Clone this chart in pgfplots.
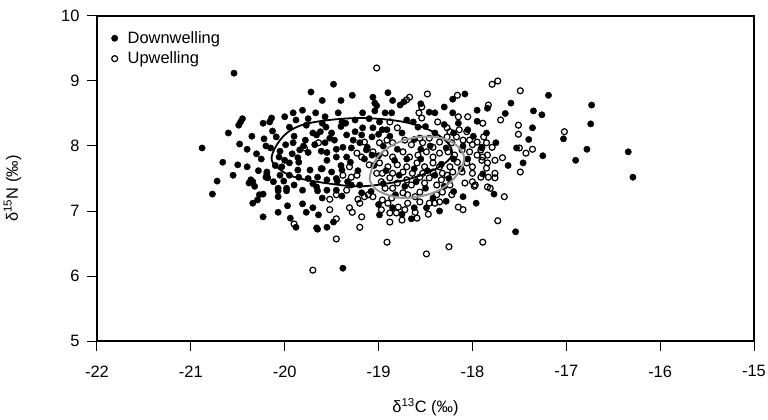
\documentclass[border=0pt]{standalone}
\usepackage{fontspec}
\setmainfont{Liberation Sans}
\usepackage{pgfplots}
\pgfplotsset{compat=1.18}

\pgfplotstableread{
x y
-20.54 9.12
-20.88 7.97
-20.72 7.46
-20.77 7.26
-20.66 7.75
-20.50 7.71
-20.40 7.68
-20.48 8.03
-20.47 8.37
-20.49 8.32
-20.45 8.42
-20.23 8.35
-20.14 8.43
-20.16 8.37
-20.13 8.23
-19.95 8.29
-19.91 8.51
-19.81 8.55
-19.67 8.51
-19.57 8.45
-19.77 8.32
-19.56 8.29
-20.22 8.11
-20.09 8.14
-20.15 7.97
-20.30 7.88
-20.06 7.83
-20.00 7.78
-19.95 7.74
-20.03 7.68
-19.84 7.94
-19.78 8.09
-19.66 8.17
-19.57 8.05
-19.61 7.92
-19.47 8.09
-19.91 8.05
-19.99 8.02
-19.86 7.82
-19.73 7.63
-19.55 7.78
-19.45 7.83
-19.86 7.63
-20.19 7.60
-19.48 8.95
-19.72 8.83
-20.38 7.43
-20.34 7.45
-20.32 7.38
-20.19 7.57
-20.18 7.51
-20.23 7.26
-20.34 7.12
-20.29 7.17
-20.23 6.91
-20.07 7.31
-20.07 7.22
-19.98 7.31
-20.01 7.46
-20.07 6.98
-19.97 7.08
-19.94 6.89
-19.81 7.11
-19.77 6.98
-19.81 7.32
-19.65 7.31
-19.64 6.94
-19.66 6.74
-19.55 6.75
-19.48 6.83
-19.55 7.32
-19.45 7.32
-19.38 6.12
-17.96 7.12
-17.89 7.57
-18.99 6.94
-18.49 7.05
-17.77 7.26
-17.54 6.68
-16.29 7.52
-17.19 8.78
-17.59 8.66
-16.73 8.63
-17.35 8.54
-17.26 8.48
-17.36 8.28
-16.74 8.34
-17.03 8.11
-17.53 7.97
-16.78 7.95
-16.90 7.78
-16.34 7.91
-17.46 7.74
-19.28 8.78
-19.06 8.75
-18.90 8.82
-19.04 8.66
-19.02 8.62
-18.77 8.63
-18.73 8.68
-18.08 8.80
-18.21 8.72
-19.17 8.51
-18.86 8.51
-18.46 8.52
-18.40 8.51
-18.21 8.51
-17.95 8.38
-18.99 8.37
-19.06 8.28
-18.96 8.25
-18.91 8.25
-18.63 8.37
-18.58 8.29
-17.99 8.15
-19.43 8.51
-19.25 8.22
-19.18 8.17
-19.34 8.17
-19.17 8.28
-19.27 8.09
-19.07 8.14
-19.38 7.98
-19.29 7.97
-19.13 7.94
-19.34 7.83
-19.07 7.86
-19.39 7.63
-17.84 8.58
-17.90 7.97
-20.36 7.48
-20.27 7.25
-20.20 7.52
-20.07 7.35
-19.98 7.35
-19.66 7.37
-19.39 7.23
-19.18 7.28
-19.29 7.40
-19.44 7.46
-19.04 8.54
-18.93 8.51
-19.39 8.37
-19.35 8.35
-19.25 8.40
-19.10 8.42
-19.20 8.05
-19.12 7.98
-19.00 8.18
-18.95 8.00
-18.88 8.15
-18.80 7.95
-18.75 8.20
-18.70 8.40
-18.62 8.10
-18.55 7.95
-18.50 8.30
-18.45 8.00
-18.40 8.20
-18.30 8.33
-18.28 7.97
-18.20 8.20
-18.15 8.35
-19.30 7.75
-19.22 7.62
-19.15 7.80
-19.05 7.70
-19.00 7.85
-18.92 7.62
-18.83 7.78
-18.78 7.55
-18.70 7.80
-18.62 7.65
-18.55 7.80
-18.48 7.62
-18.40 7.55
-18.33 7.72
-18.25 7.50
-18.20 7.80
-18.12 7.65
-18.05 7.80
-19.33 7.45
-19.20 7.40
-19.08 7.30
-18.95 7.42
-18.82 7.25
-18.72 7.38
-18.60 7.45
-18.50 7.35
-18.42 7.20
-18.30 7.38
-18.20 7.30
-18.62 7.05
-18.75 6.95
-19.00 7.10
-18.35 7.00
-20.05 7.55
-19.95 7.55
-19.85 7.52
-19.75 7.50
-19.65 7.52
-19.55 7.48
-19.45 7.50
-19.50 7.60
-19.60 7.65
-19.40 7.70
-20.25 7.80
-20.10 7.70
-19.90 8.15
-19.75 7.90
-19.70 8.20
-19.60 8.35
-19.50 8.20
-19.45 7.95
-19.40 8.30
-19.85 7.75
-20.20 8.00
-20.05 7.92
-19.92 7.88
-19.80 8.00
-19.68 8.02
-19.55 7.90
-19.52 8.12
-19.62 8.22
-19.88 8.40
-20.00 8.45
-19.75 8.42
-20.35 8.15
-20.40 7.95
-20.28 7.62
-20.12 7.45
-19.90 7.40
-19.70 7.42
-19.60 7.20
-19.70 7.05
-19.88 6.75
-19.65 6.72
-20.55 7.55
-20.60 8.20
-18.10 8.00
-18.05 8.25
-17.95 8.55
-17.85 8.20
-17.75 8.05
-17.65 8.50
-17.62 7.70
-17.40 8.10
-17.25 7.85
-18.85 7.05
-18.65 6.88
-18.28 7.15
-18.10 7.22
-18.85 8.70
-18.55 8.65
-18.30 8.60
-19.40 8.70
-19.60 8.70
}\downwelling

\pgfplotstableread{
x y
-19.02 9.20
-19.90 6.80
-19.52 7.18
-19.52 7.02
-19.45 6.57
-19.70 6.09
-19.45 6.88
-18.91 6.52
-18.49 6.34
-18.25 6.45
-17.89 6.52
-19.34 7.32
-19.20 6.75
-19.31 7.05
-19.28 6.98
-19.18 6.91
-19.20 7.12
-19.22 7.18
-19.15 7.22
-19.06 7.22
-19.11 7.25
-18.96 7.17
-18.90 7.12
-18.97 7.02
-18.88 6.97
-18.88 6.83
-18.81 6.97
-18.75 6.86
-18.79 7.06
-18.72 7.02
-18.69 7.12
-18.61 6.98
-18.59 6.89
-18.56 7.14
-18.46 7.12
-18.47 6.95
-18.40 7.12
-18.35 7.14
-18.38 7.25
-18.22 7.25
-18.15 7.06
-18.10 7.02
-18.08 7.43
-18.00 7.45
-17.97 7.40
-17.83 7.52
-17.91 7.52
-18.11 7.60
-17.84 7.37
-17.76 7.58
-17.76 7.51
-17.81 7.35
-17.66 7.22
-17.73 6.85
-17.49 7.60
-17.73 9.00
-17.79 8.95
-17.49 8.85
-17.70 8.40
-17.51 8.32
-17.51 8.18
-17.02 8.22
-17.50 7.97
-17.43 7.89
-17.36 7.95
-17.68 7.82
-17.76 7.78
-17.79 7.98
-18.67 8.75
-18.48 8.80
-18.70 8.71
-18.16 8.78
-17.83 8.63
-18.54 8.60
-18.57 8.51
-18.37 8.37
-18.15 8.45
-18.05 8.45
-17.89 8.35
-18.88 8.37
-18.80 8.28
-18.54 8.43
-18.27 8.28
-18.24 8.22
-18.14 8.25
-18.06 8.22
-17.88 8.14
-18.00 8.02
-17.91 7.94
-17.84 7.86
-19.15 8.06
-19.23 7.89
-19.18 7.83
-19.31 7.68
-19.10 7.71
-19.64 8.05
-19.79 7.97
-19.61 7.65
-17.90 7.78
-17.84 7.74
-17.98 7.38
-19.45 7.25
-18.99 8.05
-18.91 8.09
-18.85 8.05
-18.72 8.09
-18.65 8.02
-18.56 8.12
-18.53 8.05
-18.46 8.12
-18.42 7.98
-18.35 8.06
-18.27 8.14
-18.22 8.05
-18.17 8.14
-18.10 8.09
-18.03 8.09
-17.95 8.06
-17.90 7.98
-17.85 8.05
-19.06 7.91
-18.93 7.89
-18.85 7.83
-18.74 7.91
-18.67 7.83
-18.58 7.86
-18.49 7.91
-18.42 7.83
-18.35 7.89
-18.26 7.91
-18.19 7.86
-18.11 7.94
-18.03 7.91
-17.95 7.86
-17.89 7.83
-18.99 7.74
-18.90 7.68
-18.80 7.71
-18.70 7.68
-18.59 7.74
-18.51 7.68
-18.42 7.74
-18.35 7.68
-18.24 7.68
-18.16 7.75
-18.06 7.74
-18.00 7.68
-17.85 7.66
-18.96 7.58
-18.85 7.58
-18.74 7.60
-18.64 7.58
-18.53 7.58
-18.42 7.60
-18.32 7.58
-18.21 7.60
-18.00 7.58
-19.38 7.55
-19.29 7.52
-19.23 7.55
-19.02 7.58
-18.97 7.45
-18.88 7.51
-18.93 7.35
-18.85 7.35
-18.80 7.43
-18.70 7.48
-18.65 7.40
-18.74 7.28
-18.56 7.52
-18.51 7.43
-18.56 7.29
-18.46 7.51
-18.38 7.40
-18.33 7.48
-18.27 7.55
-18.24 7.40
-18.32 7.29
-18.69 7.25
-18.61 7.22
-18.86 7.20
}\upwelling

\begin{document}
\begin{tikzpicture}
\begin{axis}[
  scale only axis,
  width=657bp, height=325bp,
  xmin=-22, xmax=-15, ymin=5, ymax=10,
  xtick={-22,-21,...,-15}, ytick={5,6,...,10},
  xtick pos=bottom, ytick pos=left,
  tick align=outside,
  major tick length=10bp,
  tick style={black, line width=1pt},
  axis line style={line width=1.1pt},
  clip marker paths=true,
  every tick label/.append style={font=\fontsize{16.5}{19}\selectfont},
  xticklabel style={yshift=-11bp},
  yticklabel style={xshift=-4bp},
  /pgf/number format/assume math mode=true,
  label style={font=\fontsize{16.5}{19}\selectfont},
  xlabel={δ\textsuperscript{13}C (‰)},
  ylabel={δ\textsuperscript{15}N (‰)},
  xlabel style={yshift=-14bp},
  ylabel style={yshift=33bp, xshift=-10bp},
  legend style={draw=none, fill=none, at={(0.016,0.965)}, anchor=north west,
    font=\fontsize{16.5}{19}\selectfont, row sep=3bp},
  legend cell align=left,
  legend image code/.code={%
    \path[draw=none, fill=none] (-4bp,-3bp) rectangle (11bp,3bp);
    \draw[#1] plot coordinates {(0bp,0bp)};},
]
\addplot[only marks, mark=*, mark size=3.2pt, mark options={black, fill=black}]
  table[x=x, y=y] {\downwelling};
\addlegendentry{Downwelling}
\addplot[only marks, mark=o, mark size=3.0pt, mark options={black, fill=white, line width=1.2pt}]
  table[x=x, y=y] {\upwelling};
\addlegendentry{Upwelling}
% ellipses
\addplot[forget plot, black, line width=1.8pt, smooth cycle, tension=0.6] coordinates {
(-20.14,7.82) (-20.05,8.09) (-19.89,8.28) (-19.63,8.38) (-19.20,8.43) (-18.77,8.38)
(-18.48,8.26) (-18.27,8.06) (-18.22,7.86) (-18.35,7.68) (-18.61,7.52) (-18.88,7.43)
(-19.20,7.38) (-19.52,7.42) (-19.89,7.52) (-20.07,7.66)};
\addplot[forget plot, color={rgb,255:red,150;green,150;blue,150}, line width=2pt, smooth cycle, tension=0.6] coordinates {
(-19.09,7.55) (-19.01,7.83) (-18.83,8.03) (-18.56,8.14) (-18.30,8.11) (-18.14,7.97)
(-18.09,7.78) (-18.19,7.51) (-18.40,7.29) (-18.72,7.20) (-18.96,7.28) (-19.07,7.40)};
\coordinate (bl) at (rel axis cs:-0.1476,-0.24);
\coordinate (tr) at (rel axis cs:1.0213,1.0492);
\end{axis}
\pgfresetboundingbox
\path (bl) rectangle (tr);
\end{tikzpicture}
\end{document}
